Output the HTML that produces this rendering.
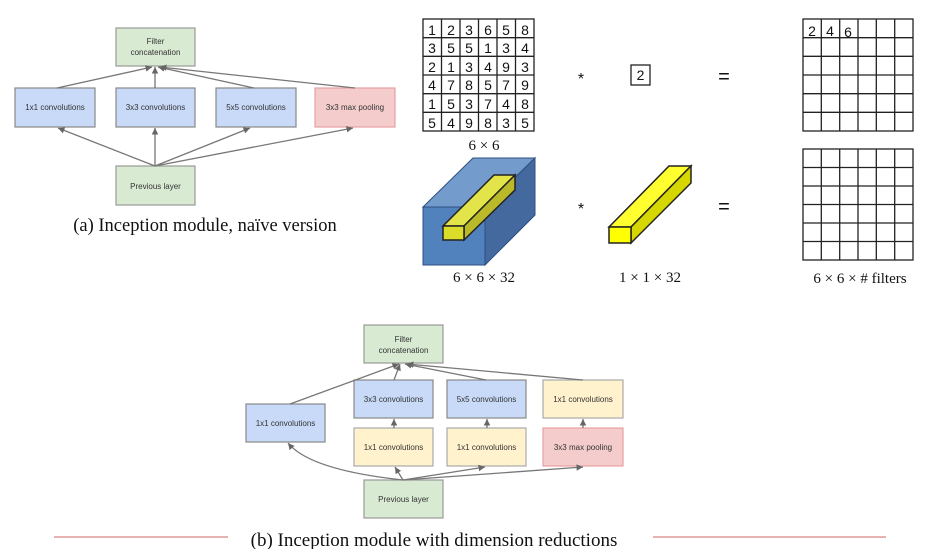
<!DOCTYPE html>
<html><head><meta charset="utf-8"><style>
html,body{margin:0;padding:0;background:#fff;}
svg{display:block;}
.s{font-family:"Liberation Sans",sans-serif;font-size:8px;fill:#333;text-anchor:middle;}
.c{font-family:"Liberation Serif",serif;font-size:18.5px;fill:#111;text-anchor:middle;}
.n{font-family:"Liberation Sans",sans-serif;font-size:14px;fill:#111;text-anchor:middle;}
.l{font-family:"Liberation Serif",serif;font-size:15px;fill:#111;text-anchor:middle;}
.g{fill:#d9ead3;stroke:#999;stroke-width:1.2}
.b{fill:#c9daf8;stroke:#888;stroke-width:1.2}
.r{fill:#f4cccc;stroke:#e6a0a0;stroke-width:1.2}
.y{fill:#fff2cc;stroke:#aaa;stroke-width:1.2}
.a{stroke:#777;stroke-width:1.3;fill:none;marker-end:url(#ar)}
</style></head><body>
<svg width="928" height="549" viewBox="0 0 928 549" xmlns="http://www.w3.org/2000/svg">
<defs><marker id="ar" markerWidth="6" markerHeight="6" refX="5" refY="3" orient="auto"><path d="M0,0.5 L5,3 L0,5.5z" fill="#666"/></marker></defs>
<!-- (a) -->
<rect class="g" x="116" y="28" width="79" height="38"/>
<text class="s" x="155.5" y="44">Filter</text><text class="s" x="155.5" y="55">concatenation</text>
<rect class="b" x="15" y="88" width="80" height="39"/><text class="s" x="55" y="110">1x1 convolutions</text>
<rect class="b" x="116" y="88" width="79" height="39"/><text class="s" x="155.5" y="110">3x3 convolutions</text>
<rect class="b" x="216" y="88" width="80" height="39"/><text class="s" x="256" y="110">5x5 convolutions</text>
<rect class="r" x="315" y="88" width="80" height="39"/><text class="s" x="355" y="110">3x3 max pooling</text>
<rect class="g" x="116" y="166" width="79" height="39"/><text class="s" x="155.5" y="189">Previous layer</text>
<path class="a" d="M57,88 L152,67"/><path class="a" d="M155,88 L155,67"/><path class="a" d="M254,88 L158,67"/><path class="a" d="M355,88 L160,67"/>
<path class="a" d="M155,166 L58,128"/><path class="a" d="M155,166 L155,128"/><path class="a" d="M155,166 L250,128"/><path class="a" d="M155,166 L353,128"/>
<text class="c" x="205" y="231">(a) Inception module, naïve version</text>
<!-- grids -->
<g stroke="#222" stroke-width="1.3" fill="none">
<rect x="423" y="19" width="111" height="112"/>
<path d="M441.5,19V131M460,19V131M478.5,19V131M497,19V131M515.5,19V131M423,37.7H534M423,56.3H534M423,75H534M423,93.7H534M423,112.3H534"/>
<rect x="803" y="19" width="110" height="112"/>
<path d="M821.3,19V131M839.7,19V131M858,19V131M876.3,19V131M894.7,19V131M803,37.7H913M803,56.3H913M803,75H913M803,93.7H913M803,112.3H913"/>
<rect x="803" y="149" width="110" height="111"/>
<path d="M821.3,149V260M839.7,149V260M858,149V260M876.3,149V260M894.7,149V260M803,167.5H913M803,186H913M803,204.5H913M803,223H913M803,241.5H913"/>
<rect x="631" y="65" width="19" height="20"/>
</g>
<g class="n">
<text x="432" y="35">1</text><text x="451" y="35">2</text><text x="469" y="35">3</text><text x="488" y="35">6</text><text x="506" y="35">5</text><text x="525" y="35">8</text>
<text x="432" y="53">3</text><text x="451" y="53">5</text><text x="469" y="53">5</text><text x="488" y="53">1</text><text x="506" y="53">3</text><text x="525" y="53">4</text>
<text x="432" y="72">2</text><text x="451" y="72">1</text><text x="469" y="72">3</text><text x="488" y="72">4</text><text x="506" y="72">9</text><text x="525" y="72">3</text>
<text x="432" y="90">4</text><text x="451" y="90">7</text><text x="469" y="90">8</text><text x="488" y="90">5</text><text x="506" y="90">7</text><text x="525" y="90">9</text>
<text x="432" y="109">1</text><text x="451" y="109">5</text><text x="469" y="109">3</text><text x="488" y="109">7</text><text x="506" y="109">4</text><text x="525" y="109">8</text>
<text x="432" y="128">5</text><text x="451" y="128">4</text><text x="469" y="128">9</text><text x="488" y="128">8</text><text x="506" y="128">3</text><text x="525" y="128">5</text>
<text x="640.5" y="80">2</text>
<text x="812" y="36">2</text><text x="830" y="36">4</text><text x="848" y="37">6</text>
<text x="581" y="84" style="font-size:16px">*</text><text x="581" y="214" style="font-size:16px">*</text>
<text x="724" y="83" style="font-size:20px">=</text><text x="724" y="213" style="font-size:20px">=</text>
</g>
<text class="l" x="484" y="150">6 × 6</text>
<text class="l" x="484" y="282">6 × 6 × 32</text>
<text class="l" x="650" y="282">1 × 1 × 32</text>
<text class="l" x="860" y="283">6 × 6 × # filters</text>
<!-- cube -->
<g stroke="#2e4f80" stroke-width="1">
<polygon points="423,207 485,207 535,158 473,158" fill="#739bcc"/>
<polygon points="485,207 535,158 535,215 485,265" fill="#43699f"/>
<rect x="423" y="207" width="62" height="58" fill="#5282be"/>
</g>
<g stroke="#222" stroke-width="1.5">
<polygon points="443,226 464,226 515,175 494,175" fill="#e3e34a"/>
<polygon points="464,226 515,175 515,190 464,240" fill="#b9b92a"/>
<rect x="443" y="226" width="21" height="14" fill="#dcdc2a"/>
<polygon points="609,227 631,227 691,166 669,166" fill="#ffff30"/>
<polygon points="631,227 691,166 691,183 631,243" fill="#d6d600"/>
<rect x="609" y="227" width="22" height="16" fill="#ffff00"/>
</g>
<!-- (b) -->
<rect class="g" x="364" y="325" width="79" height="38"/>
<text class="s" x="403.5" y="342">Filter</text><text class="s" x="403.5" y="353">concatenation</text>
<rect class="b" x="246" y="404" width="79" height="38"/><text class="s" x="285.5" y="426">1x1 convolutions</text>
<rect class="b" x="354" y="380" width="79" height="38"/><text class="s" x="393.5" y="402">3x3 convolutions</text>
<rect class="y" x="354" y="428" width="79" height="38"/><text class="s" x="393.5" y="450">1x1 convolutions</text>
<rect class="b" x="447" y="380" width="79" height="38"/><text class="s" x="486.5" y="402">5x5 convolutions</text>
<rect class="y" x="447" y="428" width="79" height="38"/><text class="s" x="486.5" y="450">1x1 convolutions</text>
<rect class="y" x="543" y="380" width="80" height="38"/><text class="s" x="583" y="402">1x1 convolutions</text>
<rect class="r" x="543" y="428" width="80" height="38"/><text class="s" x="583" y="450">3x3 max pooling</text>
<rect class="g" x="364" y="480" width="79" height="38"/><text class="s" x="403.5" y="502">Previous layer</text>
<path class="a" d="M290,404 L399,364"/><path class="a" d="M394,380 L400,364"/><path class="a" d="M486,380 L405,364"/><path class="a" d="M583,380 L407,364"/>
<path class="a" d="M394,428 L394,419"/><path class="a" d="M487,428 L487,419"/><path class="a" d="M583,428 L583,419"/>
<path class="a" d="M403,480 Q310,470 288,443"/><path class="a" d="M403,480 L395,467"/><path class="a" d="M403,480 L485,467"/><path class="a" d="M403,480 L583,467"/>
<text class="c" x="434" y="546" style="font-size:19px">(b) Inception module with dimension reductions</text>
<line x1="54" y1="537" x2="228" y2="537" stroke="#d99" stroke-width="1.5"/>
<line x1="653" y1="537" x2="886" y2="537" stroke="#d99" stroke-width="1.5"/>
</svg>
</body></html>
